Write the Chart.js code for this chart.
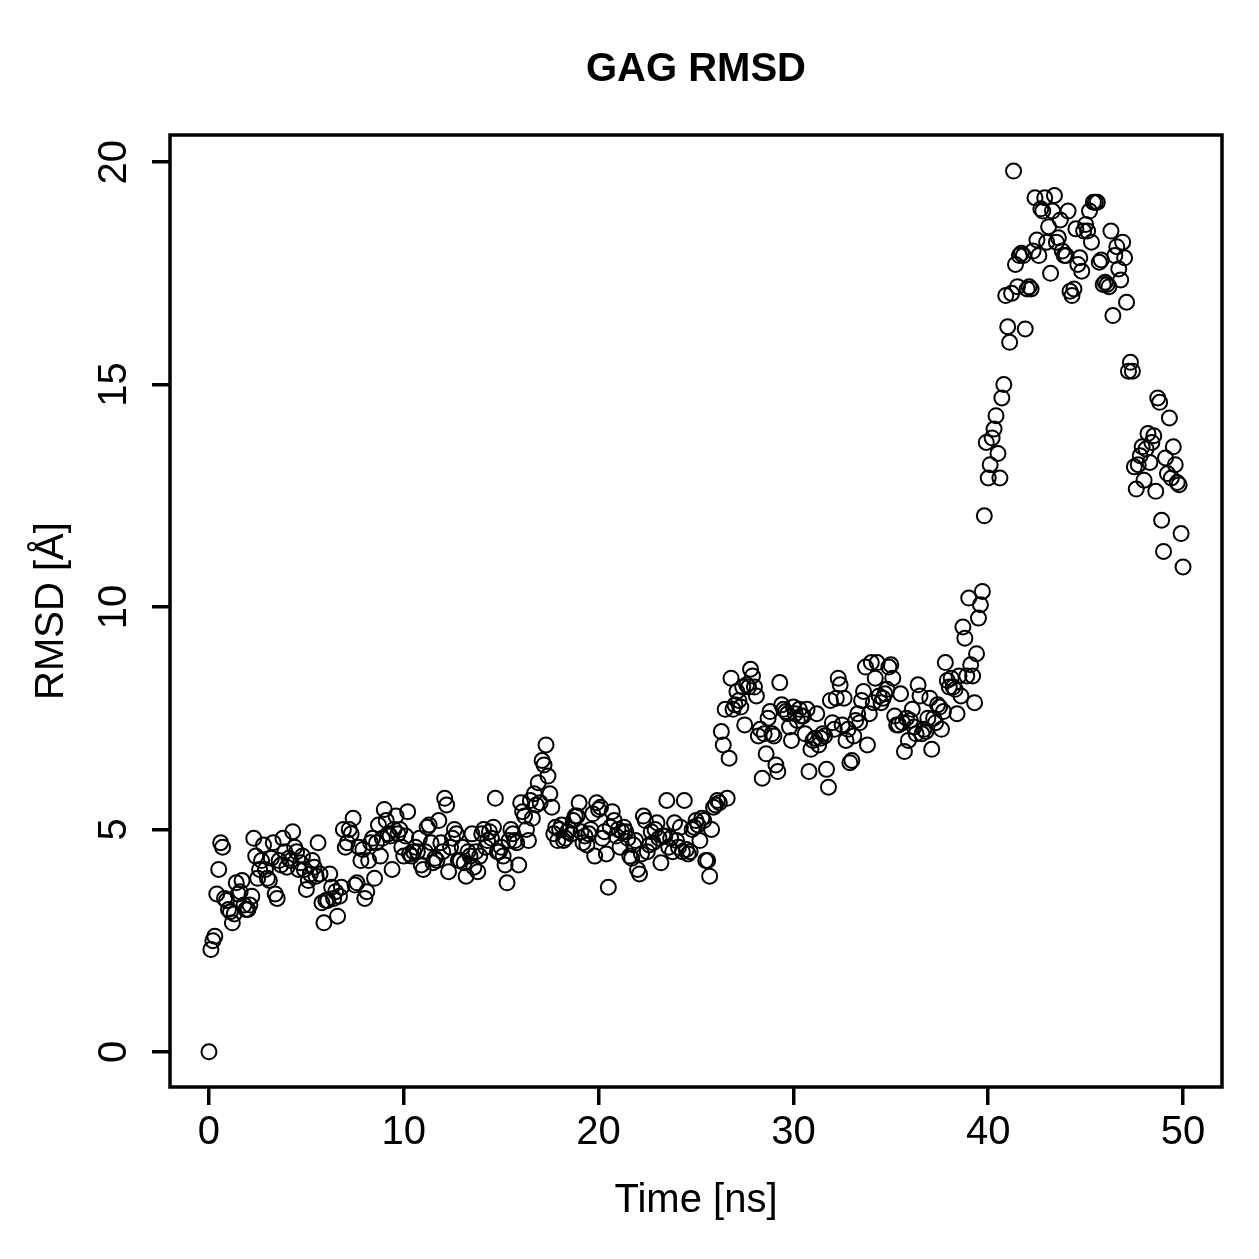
<!DOCTYPE html>
<html>
<head>
<meta charset="utf-8">
<script src="https://cdn.jsdelivr.net/npm/chart.js@4/dist/chart.umd.min.js"></script>
<style>
  html, body { margin: 0; padding: 0; background: #fff; }
  #wrap { width: 1259px; height: 1259px; }
  canvas { display: block; }
</style>
</head>
<body>
<div id="wrap"><canvas id="chartRmsd" width="1259" height="1259" style="width:1259px;height:1259px"></canvas></div>
<script>
// sampling interval of the trajectory (ns)
const timeStep = 0.1;

// RMSD [Å], one row per ns (10 frames each)
const rmsd = [
  0.0, 2.3, 2.5, 2.6, 3.55, 4.1, 4.7, 4.6, 3.45, 3.4,
  3.2, 3.15, 2.9, 3.1, 3.8, 3.55, 3.6, 3.85, 3.3, 3.2,
  3.2, 3.3, 3.5, 4.8, 4.4, 3.9, 4.1, 4.3, 4.65, 4.1,
  3.9, 3.85, 4.35, 4.7, 3.55, 3.45, 4.3, 4.2, 4.8, 4.5,
  4.15, 4.35, 4.3, 4.95, 4.6, 4.5, 4.1, 4.25, 4.4, 4.1,
  3.65, 3.85, 4.0, 4.3, 4.15, 3.95, 4.7, 4.0, 3.35, 2.9,
  3.4, 3.4, 4.0, 3.7, 3.45, 3.6, 3.05, 3.5, 3.7, 5.0,
  4.6, 4.7, 5.0, 4.9, 5.25, 3.75, 3.8, 4.6, 4.3, 4.55,
  3.45, 3.6, 4.3, 4.7, 4.8, 3.9, 4.7, 5.1, 4.4, 4.8,
  5.45, 5.2, 4.9, 4.85, 4.1, 5.0, 5.3, 4.9, 5.0, 4.6,
  4.4, 4.85, 5.4, 4.45, 4.4, 4.5, 4.6, 4.5, 4.8, 4.2,
  4.1, 4.5, 5.05, 5.1, 4.7, 4.25, 4.35, 4.3, 5.2, 4.7,
  4.5, 5.7, 5.55, 4.05, 4.6, 4.8, 5.0, 4.9, 4.3, 4.3,
  4.6, 4.25, 3.95, 4.5, 4.4, 4.9, 4.15, 4.5, 4.05, 4.4,
  4.9, 5.0, 4.6, 4.75, 4.95, 4.8, 5.05, 5.7, 4.5, 4.5,
  4.6, 4.4, 4.2, 3.8, 4.75, 5.0, 4.9, 4.75, 4.7, 4.2,
  5.6, 5.4, 5.3, 5.0, 4.75, 5.65, 5.25, 5.8, 5.55, 6.05,
  5.6, 6.55, 6.45, 6.9, 6.2, 5.8, 5.5, 4.9, 5.05, 4.75,
  5.0, 5.1, 4.75, 4.8, 4.95, 5.0, 4.9, 5.2, 5.3, 5.3,
  5.6, 4.95, 4.7, 4.85, 4.65, 4.9, 5.0, 5.35, 4.4, 5.6,
  5.45, 5.5, 4.8, 4.95, 4.45, 3.7, 5.05, 5.4, 5.2, 4.85,
  5.0, 4.6, 4.95, 5.05, 4.95, 4.8, 4.4, 4.35, 4.65, 4.75,
  4.1, 4.0, 4.45, 5.3, 5.2, 4.5, 4.65, 4.95, 4.7, 5.0,
  5.15, 4.8, 4.25, 4.85, 4.85, 5.65, 4.6, 4.8, 4.5, 5.15,
  4.75, 4.6, 5.05, 4.5, 5.65, 4.55, 4.45, 4.5, 5.0, 5.05,
  5.2, 5.1, 4.75, 5.25, 5.2, 4.3, 4.3, 3.95, 5.0, 5.5,
  5.55, 5.65, 5.6, 7.2, 6.9, 7.7, 5.7, 6.6, 8.4, 7.7,
  7.8, 8.1, 7.9, 7.75, 8.2, 7.35, 8.25, 8.2, 8.6, 8.45,
  8.2, 8.0, 7.1, 7.25, 6.15, 7.15, 6.7, 7.5, 7.65, 7.15,
  7.1, 6.45, 6.3, 8.3, 7.8, 7.7, 7.65, 7.6, 7.3, 7.0,
  7.75, 7.6, 7.45, 7.7, 7.55, 7.55, 7.15, 7.7, 6.3, 6.8,
  7.0, 7.05, 7.6, 6.9, 7.05, 7.15, 7.1, 6.35, 5.95, 7.9,
  7.4, 7.25, 7.95, 8.4, 8.25, 7.35, 7.95, 7.0, 7.25, 6.5,
  6.55, 7.1, 7.45, 7.6, 7.4, 7.9, 8.1, 8.65, 6.9, 7.6,
  8.75, 7.85, 8.4, 8.75, 8.0, 7.85, 7.95, 8.05, 8.15, 8.65,
  8.7, 8.4, 7.55, 7.35, 7.35, 8.05, 7.4, 6.75, 7.5, 7.0,
  7.45, 7.7, 7.3, 7.15, 8.25, 8.0, 7.15, 7.25, 7.2, 7.5,
  7.95, 6.8, 7.5, 7.4, 7.8, 7.75, 7.25, 7.65, 8.75, 8.35,
  8.2, 8.4, 8.2, 8.15, 7.6, 8.45, 8.0, 9.55, 9.3, 8.45,
  10.2, 8.7, 8.45, 7.85, 8.95, 9.75, 10.05, 10.35, 12.05, 13.7,
  12.9, 13.2, 13.8, 14.0, 14.3, 13.45, 12.9, 14.7, 15.0, 17.0,
  16.3, 15.95, 17.05, 19.8, 17.7, 17.2, 17.9, 17.95, 17.9, 16.25,
  17.15, 17.2, 17.15, 18.0, 19.2, 18.25, 17.9, 18.95, 18.9, 19.2,
  18.2, 18.55, 17.5, 18.9, 19.25, 18.2, 18.3, 18.7, 18.0, 17.9,
  17.9, 18.9, 17.1, 17.0, 17.15, 18.5, 17.7, 17.85, 17.55, 18.45,
  18.6, 18.45, 18.9, 18.2, 19.1, 19.1, 19.1, 17.75, 17.8, 17.25,
  17.3, 17.25, 17.2, 18.45, 16.55, 17.9, 18.1, 17.6, 17.35, 18.2,
  17.85, 16.85, 15.3, 15.5, 15.3, 13.15, 12.65, 13.2, 13.4, 13.6,
  12.85, 13.55, 13.9, 13.25, 13.7, 13.85, 12.6, 14.7, 14.6, 11.95,
  11.25, 13.35, 13.0, 14.25, 12.9, 13.6, 13.2, 12.8, 12.75, 11.65,
  10.9
];

const xTicks = [0, 10, 20, 30, 40, 50];
const yTicks = [0, 5, 10, 15, 20];

const font = 'Liberation Sans, Arial, Helvetica, sans-serif';

// R-style box and main title
const rFrame = {
  id: 'rFrame',
  afterDraw(chart) {
    const { ctx, chartArea: a } = chart;
    ctx.save();
    ctx.strokeStyle = '#000';
    ctx.lineWidth = 3.5;
    ctx.strokeRect(a.left, a.top, a.right - a.left, a.bottom - a.top);
    ctx.fillStyle = '#000';
    ctx.font = 'bold 40px ' + font;
    ctx.textAlign = 'center';
    ctx.textBaseline = 'middle';
    ctx.fillText('GAG RMSD', (a.left + a.right) / 2, 70);
    ctx.restore();
  }
};

const points = rmsd.map((v, i) => ({ x: i * timeStep, y: v }));

new Chart(document.getElementById('chartRmsd'), {
  type: 'scatter',
  data: {
    datasets: [{
      data: points,
      pointStyle: 'circle',
      borderColor: '#000',
      backgroundColor: 'rgba(0,0,0,0)',
      pointRadius: 7.5,
      borderWidth: 2
    }]
  },
  options: {
    responsive: false,
    devicePixelRatio: 1,
    animation: false,
    events: [],
    elements: {
      point: { radius: 7.5, borderWidth: 2, pointStyle: 'circle', borderColor: '#000', backgroundColor: 'rgba(0,0,0,0)' }
    },
    layout: { padding: { top: 135, right: 37, bottom: 0, left: 0 } },
    plugins: { legend: { display: false }, tooltip: { enabled: false } },
    scales: {
      x: {
        type: 'linear',
        min: -2,
        max: 52,
        afterFit: s => { s.height = 172; },
        afterBuildTicks: s => { s.ticks = xTicks.map(v => ({ value: v })); },
        grid: { drawOnChartArea: false, drawTicks: true, tickLength: 18, color: '#000', lineWidth: 3.5 },
        border: { display: false },
        ticks: { color: '#000', font: { family: font, size: 40 }, padding: 4, maxRotation: 0, autoSkip: false },
        title: { display: true, text: 'Time [ns]', color: '#000', font: { family: font, size: 40 }, padding: { top: 0, bottom: 34 } }
      },
      y: {
        type: 'linear',
        min: -0.79,
        max: 20.61,
        afterFit: s => { s.width = 170; },
        afterBuildTicks: s => { s.ticks = yTicks.map(v => ({ value: v })); },
        grid: { drawOnChartArea: false, drawTicks: true, tickLength: 18, color: '#000', lineWidth: 3.5 },
        border: { display: false },
        ticks: { color: '#000', font: { family: font, size: 40 }, padding: 15, minRotation: 90, maxRotation: 90, crossAlign: 'center', autoSkip: false },
        title: { display: true, text: 'RMSD [Å]', color: '#000', font: { family: font, size: 40 }, padding: { top: 28, bottom: 0 } }
      }
    }
  },
  plugins: [rFrame]
});
</script>
</body>
</html>
